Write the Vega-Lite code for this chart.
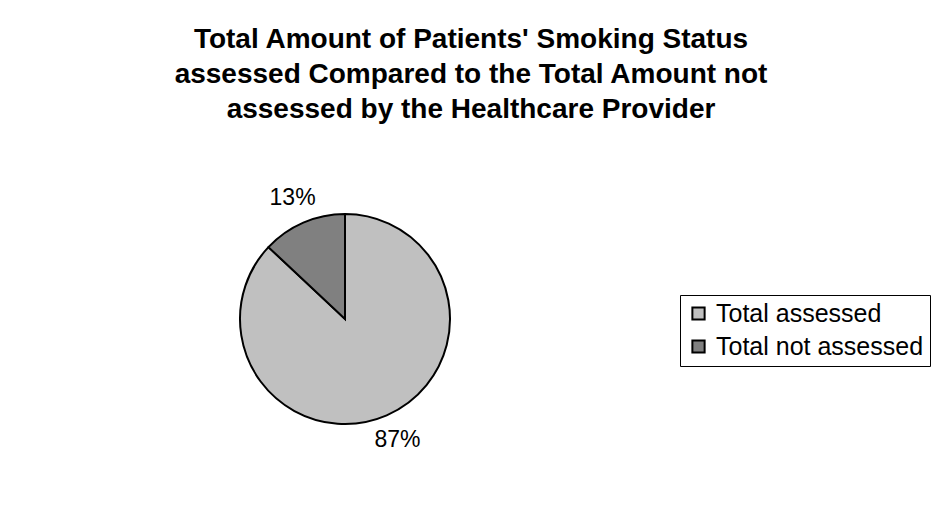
{
  "$schema": "https://vega.github.io/schema/vega-lite/v6.json",
  "autosize": {"type": "none"},
  "width": 690,
  "height": 390,
  "padding": {"left": 0, "top": 124, "right": 241, "bottom": 0},
  "background": "white",
  "title": {
    "text": ["Total Amount of Patients' Smoking Status", "assessed Compared to the Total Amount not", "assessed by the Healthcare Provider"],
    "font": "Liberation Sans",
    "fontSize": 28,
    "fontWeight": "bold",
    "color": "black",
    "lineHeight": 35,
    "anchor": "middle",
    "dx": 126,
    "offset": 0
  },
  "data": {
    "values": [
      {"status": "Total assessed", "percent": 87, "label": "87%", "order": 1},
      {"status": "Total not assessed", "percent": 13, "label": "13%", "order": 2}
    ]
  },
  "encoding": {
    "theta": {"field": "percent", "type": "quantitative", "stack": true},
    "order": {"field": "order", "type": "quantitative"}
  },
  "layer": [
    {
      "mark": {"type": "arc", "outerRadius": 105, "stroke": "black", "strokeWidth": 2},
      "encoding": {
        "color": {
          "field": "status",
          "type": "nominal",
          "sort": ["Total assessed", "Total not assessed"],
          "scale": {"domain": ["Total assessed", "Total not assessed"], "range": ["#c0c0c0", "#808080"]},
          "legend": {
            "title": null,
            "orient": "none",
            "legendX": 680,
            "legendY": 171,
            "strokeColor": "black",
            "padding": 6,
            "symbolType": "square",
            "symbolSize": 150,
            "symbolStrokeColor": "black",
            "symbolStrokeWidth": 2,
            "labelFont": "Liberation Sans",
            "labelFontSize": 25,
            "labelColor": "black",
            "labelOffset": 5,
            "rowPadding": 7,
            "labelLimit": 300
          }
        }
      }
    },
    {
      "mark": {"type": "text", "radius": 132, "font": "Liberation Sans", "fontSize": 23, "color": "black"},
      "encoding": {"text": {"field": "label", "type": "nominal"}}
    }
  ]
}
